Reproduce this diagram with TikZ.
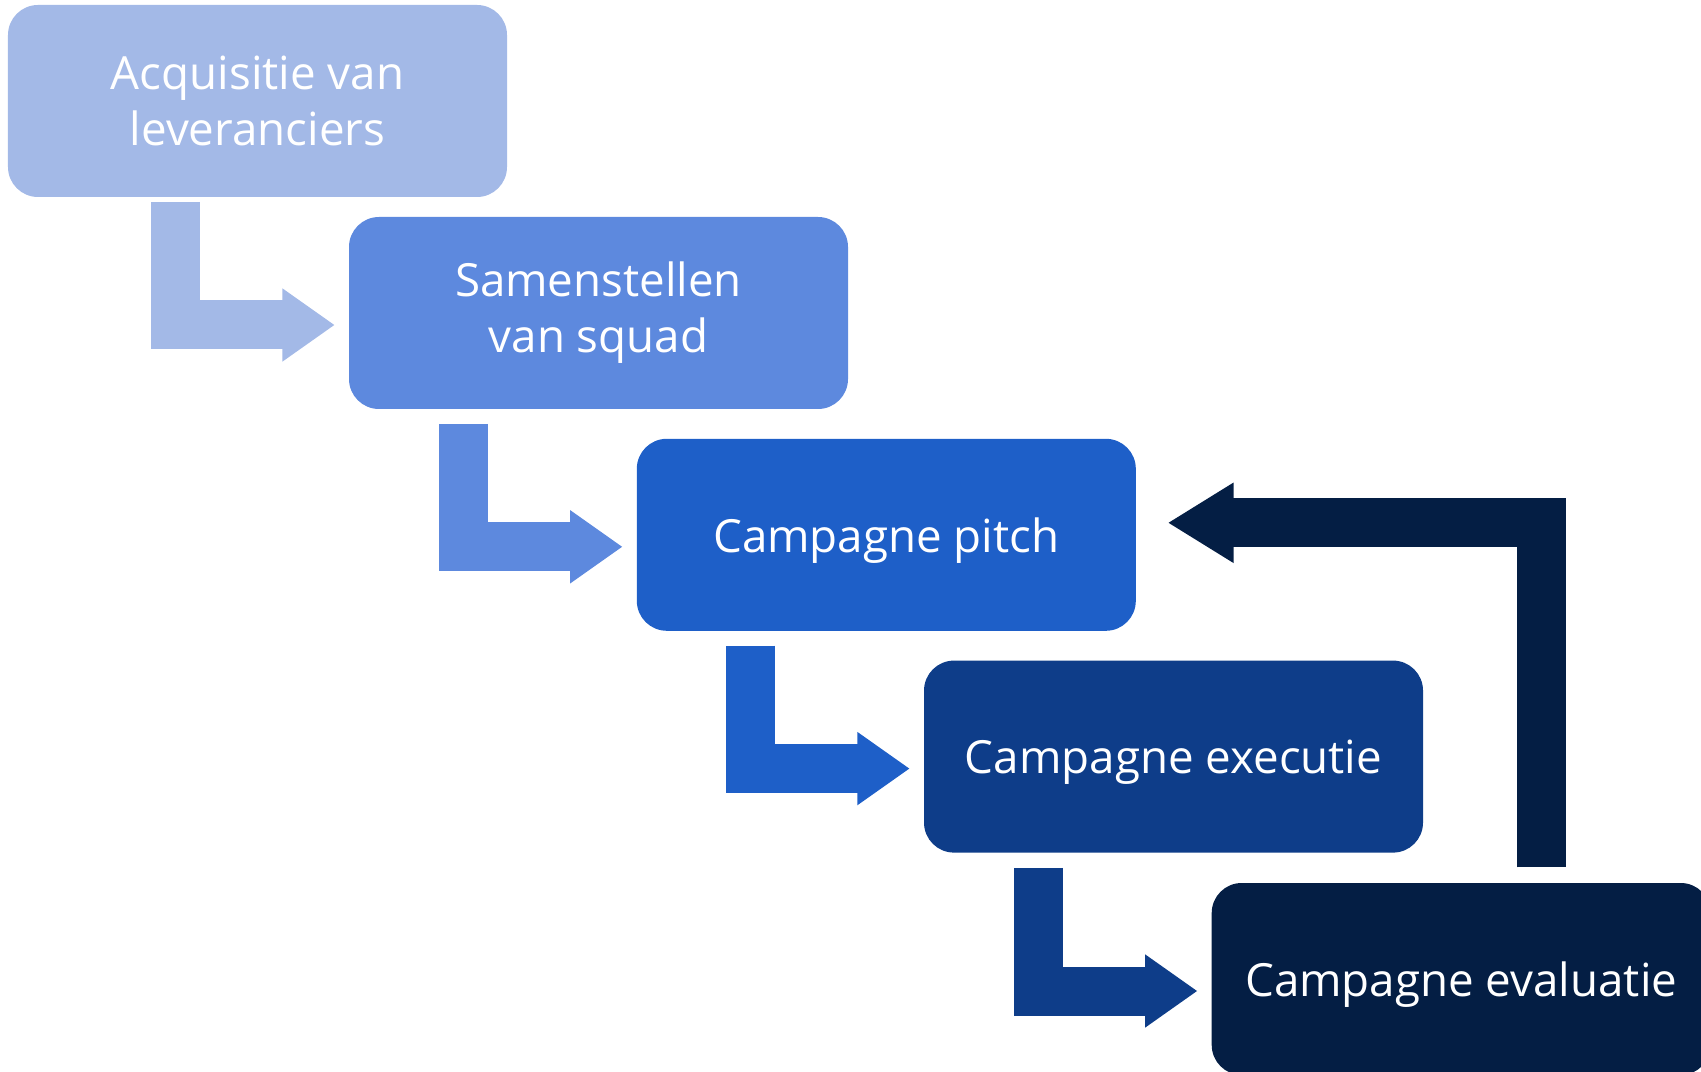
\documentclass[tikz,border=0pt]{standalone}
\usepackage{fontspec}
\setmainfont{Open Sans}
\usetikzlibrary{arrows.meta,calc}

\definecolor{c1}{RGB}{163,185,231}
\definecolor{c2}{RGB}{93,137,222}
\definecolor{c3}{RGB}{30,95,200}
\definecolor{c4}{RGB}{14,61,137}
\definecolor{c5}{RGB}{4,30,68}

\begin{document}
\begin{tikzpicture}[
        every node/.style={rounded corners=0.3cm, minimum width=4.99cm, minimum height=1.92cm,
            inner sep=0pt, text=white, align=center, font=\fontsize{13}{16}\selectfont},
        one/.style={text depth=0pt},
        ar/.style={line width=0.49cm, draw=#1, -{Triangle[length=0.52cm, width=0.73cm, line width=0.02cm]}},
        back/.style={line width=0.49cm, draw=#1, -{Triangle[length=0.65cm, width=0.8cm, line width=0.02cm]}},
    ]
    \path[use as bounding box, clip] (0,0) rectangle (17.01,-10.72);

    \node[fill=c1](acq) at (2.575,-1.01) {Acquisitie van\\leveranciers};
    \node[fill=c2](squad) at (5.985,-3.13) {Samenstellen\\van squad};
    \node[fill=c3, one](pitch) at (8.863,-5.348) {Campagne pitch};
    \node[fill=c4, one](exec) at (11.735,-7.566) {Campagne executie};
    \node[fill=c5, one](eval) at (14.612,-9.79) {Campagne evaluatie};

    % bent arrows down the steps
    \draw[ar=c1] ($(squad.north west)+(-1.725,0.143)$) |- ($(squad.west)+(-0.14,-0.12)$);
    \draw[ar=c2] ($(pitch.north west)+(-1.725,0.143)$) |- ($(pitch.west)+(-0.14,-0.12)$);
    \draw[ar=c3] ($(exec.north west)+(-1.725,0.143)$) |- ($(exec.west)+(-0.14,-0.12)$);
    \draw[ar=c4] ($(eval.north west)+(-1.725,0.143)$) |- ($(eval.west)+(-0.14,-0.12)$);

    % loop back to the pitch
    \draw[back=c5] ($(eval.north)+(0.8,0.15)$) |- ($(pitch.east)+(0.32,0.12)$);
\end{tikzpicture}
\end{document}
